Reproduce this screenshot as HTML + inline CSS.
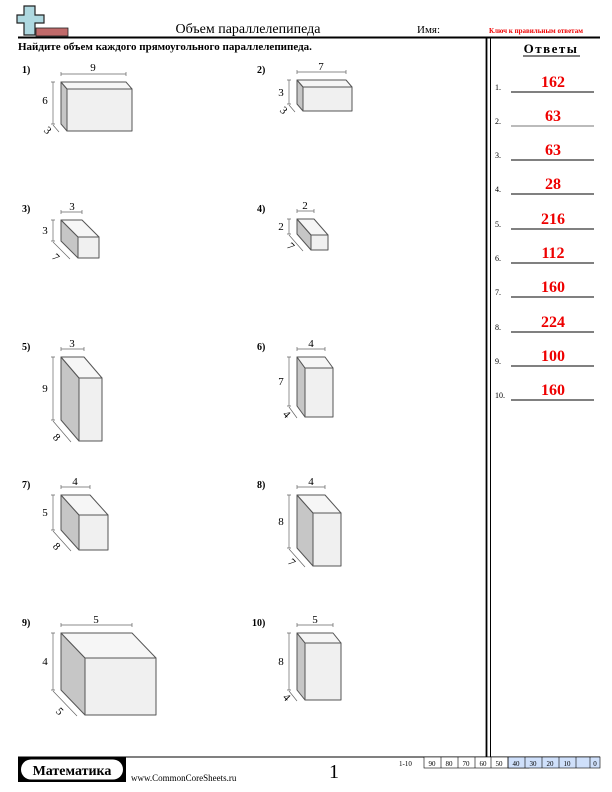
<!DOCTYPE html>
<html><head><meta charset="utf-8"><style>
body{margin:0;width:612px;height:792px;background:#fff;overflow:hidden;font-family:"Liberation Serif",serif}
svg{position:absolute;left:0;top:0}
.b{font-weight:bold}
</style></head><body>
<svg width="612" height="792" viewBox="0 0 612 792" font-family="Liberation Serif, serif">
<!-- logo -->
<rect x="36" y="28" width="32" height="8" fill="#c06a6a" stroke="#222" stroke-width="0.8"/>
<path d="M24 6h11v9h9v8h-9v12h-11v-12h-7v-8h7z" fill="#aed8e0" stroke="#222" stroke-width="1.2"/>
<text x="248" y="33" font-size="14" text-anchor="middle">Объем параллелепипеда</text>
<text x="417" y="33" font-size="11">Имя:</text>
<text x="536" y="33" style="font-size:7px;font-weight:bold" fill="#e00" text-anchor="middle">Ключ к правильным ответам</text>
<line x1="18" y1="37.5" x2="600" y2="37.5" stroke="#000" stroke-width="2"/>
<line x1="486.5" y1="38" x2="486.5" y2="757" stroke="#000" stroke-width="1.8"/>
<line x1="490.5" y1="38" x2="490.5" y2="757" stroke="#000" stroke-width="1"/>
<text x="18" y="50" style="font-size:11px;font-weight:bold">Найдите объем каждого прямоугольного параллелепипеда.</text>
<text x="551" y="53" style="font-size:13px;font-weight:bold;letter-spacing:1.5px" text-anchor="middle">Ответы</text>
<line x1="523" y1="56" x2="580" y2="56" stroke="#000" stroke-width="1"/>
<g font-size="8">
<text x="495" y="90">1.</text><text x="495" y="124">2.</text><text x="495" y="158">3.</text><text x="495" y="192">4.</text><text x="495" y="227">5.</text><text x="495" y="261">6.</text><text x="495" y="295">7.</text><text x="495" y="330">8.</text><text x="495" y="364">9.</text><text x="495" y="398">10.</text>
</g>
<g stroke="#000" stroke-width="1">
<line x1="511" y1="92" x2="594" y2="92"/><line x1="511" y1="126" x2="594" y2="126" stroke="#777"/><line x1="511" y1="160" x2="594" y2="160"/><line x1="511" y1="194" x2="594" y2="194"/><line x1="511" y1="229" x2="594" y2="229"/><line x1="511" y1="263" x2="594" y2="263"/><line x1="511" y1="297" x2="594" y2="297"/><line x1="511" y1="332" x2="594" y2="332"/><line x1="511" y1="366" x2="594" y2="366"/><line x1="511" y1="400" x2="594" y2="400"/>
</g>
<g style="font-size:16px;font-weight:bold" fill="#e00" text-anchor="middle">
<text x="553" y="87">162</text><text x="553" y="121">63</text><text x="553" y="155">63</text><text x="553" y="189">28</text><text x="553" y="224">216</text><text x="553" y="258">112</text><text x="553" y="292">160</text><text x="553" y="327">224</text><text x="553" y="361">100</text><text x="553" y="395">160</text>
</g>
<g style="font-size:10px;font-weight:bold">
<text x="22" y="73">1)</text><text x="257" y="73">2)</text><text x="22" y="212">3)</text><text x="257" y="212">4)</text><text x="22" y="350">5)</text><text x="257" y="350">6)</text><text x="22" y="488">7)</text><text x="257" y="488">8)</text><text x="22" y="626">9)</text><text x="252" y="626">10)</text>
</g>
<g stroke="#555" stroke-width="1" stroke-linejoin="round">
<polygon points="61,82 67,89 67,131 61,124" fill="#c6c6c6"/><polygon points="61,82 126,82 132,89 67,89" fill="#f6f6f6"/><rect x="67" y="89" width="65" height="42" fill="#f0f0f0"/>
<polygon points="297,80 303,87 303,111 297,104" fill="#c6c6c6"/><polygon points="297,80 346,80 352,87 303,87" fill="#f6f6f6"/><rect x="303" y="87" width="49" height="24" fill="#f0f0f0"/>
<polygon points="61,220 78,237 78,258 61,241" fill="#c6c6c6"/><polygon points="61,220 82,220 99,237 78,237" fill="#f6f6f6"/><rect x="78" y="237" width="21" height="21" fill="#f0f0f0"/>
<polygon points="297,219 311,235 311,250 297,234" fill="#c6c6c6"/><polygon points="297,219 314,219 328,235 311,235" fill="#f6f6f6"/><rect x="311" y="235" width="17" height="15" fill="#f0f0f0"/>
<polygon points="61,357 79,378 79,441 61,420" fill="#c6c6c6"/><polygon points="61,357 84,357 102,378 79,378" fill="#f6f6f6"/><rect x="79" y="378" width="23" height="63" fill="#f0f0f0"/>
<polygon points="297,357 305,368 305,417 297,406" fill="#c6c6c6"/><polygon points="297,357 325,357 333,368 305,368" fill="#f6f6f6"/><rect x="305" y="368" width="28" height="49" fill="#f0f0f0"/>
<polygon points="61,495 79,515 79,550 61,530" fill="#c6c6c6"/><polygon points="61,495 90,495 108,515 79,515" fill="#f6f6f6"/><rect x="79" y="515" width="29" height="35" fill="#f0f0f0"/>
<polygon points="297,495 313,513 313,566 297,548" fill="#c6c6c6"/><polygon points="297,495 325,495 341,513 313,513" fill="#f6f6f6"/><rect x="313" y="513" width="28" height="53" fill="#f0f0f0"/>
<polygon points="61,633 85,658 85,715 61,690" fill="#c6c6c6"/><polygon points="61,633 132,633 156,658 85,658" fill="#f6f6f6"/><rect x="85" y="658" width="71" height="57" fill="#f0f0f0"/>
<polygon points="297,633 305,643 305,700 297,690" fill="#c6c6c6"/><polygon points="297,633 333,633 341,643 305,643" fill="#f6f6f6"/><rect x="305" y="643" width="36" height="57" fill="#f0f0f0"/>
</g>
<g stroke="#666" stroke-width="0.7" fill="none">
<path d="M61 74H126M61 72v4M126 72v4 M53 82V124M51 82h4M51 124h4 M53 125l6 7"/>
<path d="M297 72H346M297 70v4M346 70v4 M289 80V104M287 80h4M287 104h4 M289 105l6 7"/>
<path d="M61 212H82M61 210v4M82 210v4 M53 220V241M51 220h4M51 241h4 M53 242l17 17"/>
<path d="M297 211H314M297 209v4M314 209v4 M289 219V234M287 219h4M287 234h4 M289 235l14 16"/>
<path d="M61 349H84M61 347v4M84 347v4 M53 357V420M51 357h4M51 420h4 M53 421l18 21"/>
<path d="M297 349H325M297 347v4M325 347v4 M289 357V406M287 357h4M287 406h4 M289 407l8 11"/>
<path d="M61 487H90M61 485v4M90 485v4 M53 495V530M51 495h4M51 530h4 M53 531l18 20"/>
<path d="M297 487H325M297 485v4M325 485v4 M289 495V548M287 495h4M287 548h4 M289 549l16 18"/>
<path d="M61 625H132M61 623v4M132 623v4 M53 633V690M51 633h4M51 690h4 M53 691l24 25"/>
<path d="M297 625H333M297 623v4M333 623v4 M289 633V690M287 633h4M287 690h4 M289 691l8 10"/>
</g>
<g font-size="11" text-anchor="middle">
<text x="93" y="71">9</text><text x="45" y="104">6</text><text x="48" y="134" transform="rotate(45 48 130)">3</text>
<text x="321" y="70">7</text><text x="281" y="96">3</text><text x="284" y="114" transform="rotate(45 284 110)">3</text>
<text x="72" y="210">3</text><text x="45" y="234">3</text><text x="56" y="261" transform="rotate(45 56 257)">7</text>
<text x="305" y="209">2</text><text x="281" y="230">2</text><text x="291" y="250" transform="rotate(45 291 246)">7</text>
<text x="72" y="347">3</text><text x="45" y="392">9</text><text x="57" y="441" transform="rotate(45 57 437)">8</text>
<text x="311" y="347">4</text><text x="281" y="385">7</text><text x="287" y="418" transform="rotate(45 287 414)">4</text>
<text x="75" y="485">4</text><text x="45" y="516">5</text><text x="57" y="550" transform="rotate(45 57 546)">8</text>
<text x="311" y="485">4</text><text x="281" y="525">8</text><text x="292" y="566" transform="rotate(45 292 562)">7</text>
<text x="96" y="623">5</text><text x="45" y="665">4</text><text x="60" y="715" transform="rotate(45 60 711)">5</text>
<text x="315" y="623">5</text><text x="281" y="665">8</text><text x="287" y="701" transform="rotate(45 287 697)">4</text>
</g>
<!-- footer -->
<line x1="18" y1="757" x2="600" y2="757" stroke="#000" stroke-width="1"/>
<rect x="18" y="757" width="108" height="25" fill="#000"/>
<rect x="21" y="759.5" width="102" height="20" rx="10" fill="#fff"/>
<text x="72" y="775" style="font-size:14px;font-weight:bold" text-anchor="middle">Математика</text>
<text x="131" y="781" font-size="9">www.CommonCoreSheets.ru</text>
<text x="334" y="778" font-size="20" text-anchor="middle">1</text>
<text x="399" y="766" font-size="7">1-10</text>
<g stroke="#000" stroke-width="0.6">
<rect x="424" y="757" width="105" height="11" fill="#fff"/>
<rect x="508" y="757" width="92" height="11" fill="#cfe0fb"/>
<line x1="441" y1="757" x2="441" y2="768"/><line x1="458" y1="757" x2="458" y2="768"/><line x1="475" y1="757" x2="475" y2="768"/><line x1="491" y1="757" x2="491" y2="768"/><line x1="508" y1="757" x2="508" y2="768"/><line x1="525" y1="757" x2="525" y2="768"/><line x1="542" y1="757" x2="542" y2="768"/><line x1="559" y1="757" x2="559" y2="768"/><line x1="576" y1="757" x2="576" y2="768"/><line x1="590" y1="757" x2="590" y2="768"/>
</g>
<g font-size="7" text-anchor="middle">
<text x="432" y="766">90</text><text x="449" y="766">80</text><text x="466" y="766">70</text><text x="483" y="766">60</text><text x="499" y="766">50</text><text x="516" y="766">40</text><text x="533" y="766">30</text><text x="550" y="766">20</text><text x="567" y="766">10</text><text x="595" y="766">0</text>
</g>
</svg>
</body></html>
